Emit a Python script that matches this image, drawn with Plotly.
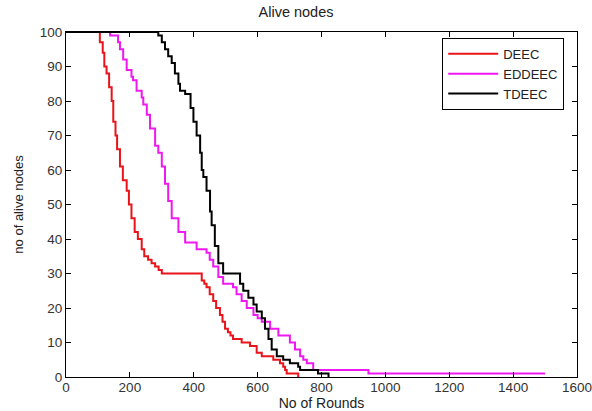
import plotly.graph_objects as go

# DEEC (red) step breakpoints: round where the alive count changes, new alive count
deec_rounds = [0, 106, 115, 120, 127, 135, 143, 148, 155, 160, 169, 178, 190, 197, 205, 215,
               225, 237, 245, 257, 268, 279, 290, 300, 425, 433, 440, 450, 461, 470, 482, 490,
               498, 507, 515, 523, 550, 576, 597, 613, 649, 670, 680, 686, 691, 727]
deec_alive = [100, 97, 94, 90, 88, 84, 80, 74, 70, 66, 61, 57, 54, 50, 46, 42,
              40, 37, 35, 34, 33, 32, 31, 30, 28, 27, 26, 24, 22, 20, 18, 16,
              14, 13, 12, 11, 10, 9, 7, 6, 5, 4, 3, 2, 1, 0]

# EDDEEC (magenta)
eddeec_rounds = [0, 138, 163, 169, 179, 190, 205, 210, 221, 237, 242, 253, 263, 279, 289, 300,
                 310, 320, 331, 352, 373, 409, 440, 450, 461, 477, 492, 523, 534, 550, 566, 587,
                 600, 613, 639, 665, 701, 717, 733, 743, 754, 774, 947, 1500]
eddeec_alive = [100, 99, 97, 95, 92, 89, 87, 86, 83, 81, 79, 76, 72, 67, 65, 61,
                56, 51, 46, 42, 39, 37, 36, 34, 32, 29, 27, 26, 24, 22, 20, 18,
                17, 16, 14, 12, 10, 8, 6, 5, 4, 2, 1, 1]

# TDEEC (black)
tdeec_rounds = [0, 289, 300, 310, 320, 331, 341, 352, 357, 373, 390, 399, 409, 420, 425, 430,
                440, 451, 456, 466, 477, 492, 545, 555, 571, 587, 597, 613, 623, 634, 644, 660,
                680, 701, 727, 733, 789, 822]
tdeec_alive = [100, 99, 97, 95, 93, 91, 88, 85, 83, 82, 78, 74, 70, 65, 60, 58,
               54, 48, 44, 38, 33, 30, 27, 25, 23, 21, 19, 17, 14, 11, 8, 6,
               5, 4, 3, 2, 1, 0]

x_ticks = [0, 200, 400, 600, 800, 1000, 1200, 1400, 1600]
y_ticks = [0, 10, 20, 30, 40, 50, 60, 70, 80, 90, 100]

FONT = "Liberation Sans, Arial, sans-serif"

fig = go.Figure()
fig.add_trace(go.Scatter(x=deec_rounds, y=deec_alive, mode="lines", name="DEEC",
                         line=dict(color="#e8141a", width=2, shape="hv")))
fig.add_trace(go.Scatter(x=eddeec_rounds, y=eddeec_alive, mode="lines", name="EDDEEC",
                         line=dict(color="#f018f0", width=2, shape="hv")))
fig.add_trace(go.Scatter(x=tdeec_rounds, y=tdeec_alive, mode="lines", name="TDEEC",
                         line=dict(color="#000000", width=2, shape="hv")))

axis_common = dict(showgrid=False, zeroline=False, showline=True, linecolor="black",
                   linewidth=1, mirror="ticks", ticks="inside", ticklen=5,
                   tickcolor="black", automargin=False, ticklabeloverflow="allow",
                   tickfont=dict(family=FONT, size=13.5, color="#333"))

fig.update_layout(
    width=592, height=411,
    margin=dict(l=66, r=15, t=32, b=34),
    paper_bgcolor="white", plot_bgcolor="white",
    font=dict(family=FONT, size=14, color="#222"),
    title=dict(text="Alive nodes", x=0.5, xanchor="center", y=0.971, yanchor="middle",
               font=dict(family=FONT, size=14.5, color="#222")),
    xaxis=dict(range=[0, 1600], tickvals=x_ticks, ticktext=[str(v) for v in x_ticks],
               ticklabelstandoff=-2,
               title=dict(text="No of Rounds", standoff=1, font=dict(family=FONT, size=14)),
               **axis_common),
    yaxis=dict(range=[0, 100], tickvals=y_ticks, ticktext=[str(v) for v in y_ticks],
               title=dict(text="no of alive nodes", standoff=13, font=dict(family=FONT, size=13)),
               **axis_common),
    legend=dict(x=0.975, y=0.983, xanchor="right", yanchor="top",
                bordercolor="black", borderwidth=1, bgcolor="white", itemwidth=50,
                font=dict(family=FONT, size=13, color="#222"), tracegroupgap=0),
    showlegend=True,
)

fig.write_html("out.html", config={"displayModeBar": False},
               post_script="document.body.style.margin='0';document.body.style.overflow='hidden';")
